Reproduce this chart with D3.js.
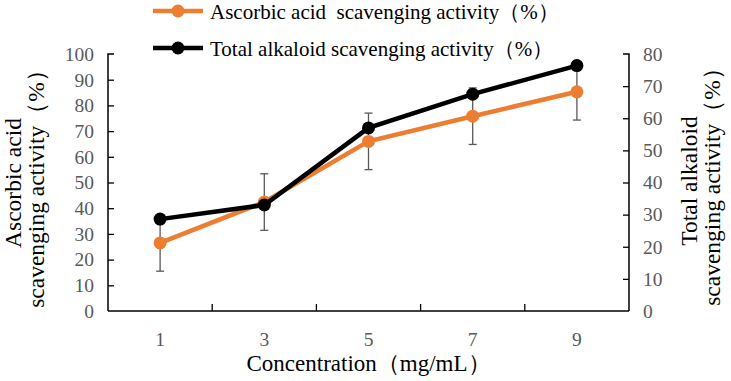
<!DOCTYPE html>
<html><head><meta charset="utf-8">
<script src="https://cdn.jsdelivr.net/npm/d3@7"></script>
<style>body{margin:0;background:#fff}svg{display:block}</style>
</head><body><svg id="c" width="731" height="381"></svg>
<script>
const categories = ["1","3","5","7","9"];
const ascorbic = [26.5, 42.4, 66.0, 75.8, 85.3];
const ascorbicErr = [11, 11, 11, 11, 11];
const alkaloid = [28.6, 33.0, 57.0, 67.5, 76.4];
const leftTicks = [0,10,20,30,40,50,60,70,80,90,100];
const rightTicks = [0,10,20,30,40,50,60,70,80];
const seriesNames = ["Ascorbic acid\u00a0 scavenging activity（%）","Total alkaloid scavenging activity（%）"];

const FONT = "'Liberation Serif'";
const svg = d3.select("#c");
const L=108, R=629, T=54, B=311;
const x = d3.scaleBand().domain(categories).range([L,R]);
const yL = d3.scaleLinear().domain([0,100]).range([B,T]);
const yR = d3.scaleLinear().domain([0,80]).range([B,T]);
const gray="#595959", orange="#ED7D31";

// axes
const axL = svg.append("g").attr("transform",`translate(${L},0)`)
  .call(d3.axisRight(yL).tickValues(leftTicks).tickSize(6).tickFormat(""));
const axR = svg.append("g").attr("transform",`translate(${R},0)`)
  .call(d3.axisLeft(yR).tickValues(rightTicks).tickSize(6).tickFormat(""));
[axL,axR].forEach(a=>{a.select(".domain").attr("d",a===axL?`M${6},${T}H0V${B}`:`M-6,${T}H0V${B}`).attr("stroke","#000").attr("stroke-width",1.5);a.selectAll(".tick line").attr("stroke","#000").attr("stroke-width",1.3);});
axL.selectAll(".tick").filter(d=>d===0||d===100).select("line").remove();
axR.selectAll(".tick").filter(d=>d===0||d===80).select("line").remove();
// left labels
svg.append("g").selectAll("text").data(leftTicks).join("text")
  .attr("x",L-14).attr("y",d=>yL(d)).attr("dy","0.35em").attr("text-anchor","end")
  .attr("fill",gray).attr("font-size",19.5).style("font-family",FONT).text(d=>d);
svg.append("g").selectAll("text").data(rightTicks).join("text")
  .attr("x",R+14).attr("y",d=>yR(d)).attr("dy","0.35em").attr("text-anchor","start")
  .attr("fill",gray).attr("font-size",19.5).style("font-family",FONT).text(d=>d);
// x axis
svg.append("line").attr("x1",L).attr("x2",R).attr("y1",B).attr("y2",B).attr("stroke","#000").attr("stroke-width",1.5);
svg.append("g").selectAll("line").data(categories.slice(1)).join("line")
  .attr("x1",d=>x(d)).attr("x2",d=>x(d)).attr("y1",B).attr("y2",B-7).attr("stroke","#000").attr("stroke-width",1.3);
svg.append("g").selectAll("text").data(categories).join("text")
  .attr("x",d=>x(d)+x.bandwidth()/2).attr("y",B+35).attr("text-anchor","middle")
  .attr("fill",gray).attr("font-size",19.5).style("font-family",FONT).text(d=>d);
svg.append("text").attr("x",(L+R)/2).attr("y",371).attr("text-anchor","middle").attr("font-size",23).style("font-family",FONT).text("Concentration（mg/mL）");

// axis titles
const lt = svg.append("text").attr("transform",`translate(21,183) rotate(-90)`).attr("text-anchor","middle").attr("font-size",23.5).style("font-family",FONT);
lt.append("tspan").attr("x",0).attr("y",0).text("Ascorbic acid");
lt.append("tspan").attr("x",0).attr("y",23).text("scavenging activity（%）");
const rt = svg.append("text").attr("transform",`translate(697,181) rotate(-90)`).attr("text-anchor","middle").attr("font-size",23.5).style("font-family",FONT);
rt.append("tspan").attr("x",0).attr("y",0).text("Total alkaloid");
rt.append("tspan").attr("x",0).attr("y",23).text("scavenging activity（%）");

const cx = d=>x(d)+x.bandwidth()/2;
// error bars (ascorbic)
const eb = svg.append("g").attr("stroke",gray).attr("stroke-width",1.3);
categories.forEach((c,i)=>{
  const v=ascorbic[i], e=ascorbicErr[i];
  eb.append("line").attr("x1",cx(c)).attr("x2",cx(c)).attr("y1",yL(v-e)).attr("y2",yL(v+e));
  [v-e,v+e].forEach(w=>eb.append("line").attr("x1",cx(c)-4).attr("x2",cx(c)+4).attr("y1",yL(w)).attr("y2",yL(w)));
});
// orange line
svg.append("path").datum(ascorbic).attr("fill","none").attr("stroke",orange).attr("stroke-width",4.5)
  .attr("d",d3.line().x((d,i)=>cx(categories[i])).y(d=>yL(d)));
svg.append("g").selectAll("circle").data(ascorbic).join("circle")
  .attr("cx",(d,i)=>cx(categories[i])).attr("cy",d=>yL(d)).attr("r",6.5).attr("fill",orange);
// black line
svg.append("path").datum(alkaloid).attr("fill","none").attr("stroke","#000").attr("stroke-width",4.5)
  .attr("d",d3.line().x((d,i)=>cx(categories[i])).y(d=>yR(d)));
svg.append("g").selectAll("circle").data(alkaloid).join("circle")
  .attr("cx",(d,i)=>cx(categories[i])).attr("cy",d=>yR(d)).attr("r",6.5).attr("fill","#000");

// legend
const lg = [{c:orange,y:11},{c:"#000",y:48}];
lg.forEach((o,i)=>{
  svg.append("line").attr("x1",153).attr("x2",203).attr("y1",o.y).attr("y2",o.y).attr("stroke",o.c).attr("stroke-width",4.5);
  svg.append("circle").attr("cx",178).attr("cy",o.y).attr("r",6.5).attr("fill",o.c);
  svg.append("text").attr("x",210).attr("y",o.y+8).attr("font-size",21).style("font-family",FONT).text(seriesNames[i]);
});
</script></body></html>
